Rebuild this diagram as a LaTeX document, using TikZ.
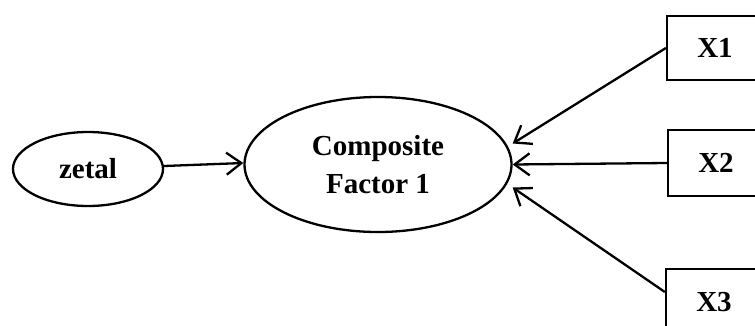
\documentclass[tikz,border=0pt]{standalone}
\usepackage{fontspec}
\setmainfont{Liberation Serif}
\usetikzlibrary{shapes.geometric,arrows.meta}
\begin{document}
\begin{tikzpicture}[x=1pt,y=-1pt,
  every node/.style={font=\fontsize{29}{38}\selectfont\bfseries, line width=2.3pt, inner sep=0pt},
  latent/.style={draw, ellipse},
  manifest/.style={draw, rectangle, minimum width=96pt},
  conn/.style={line width=2.3pt, -{Straight Barb[length=15pt,width=22pt,line width=2.3pt]}}]
\useasboundingbox (0,0) rectangle (755,325);
\node[latent, minimum width=150pt, minimum height=74pt] (zetal) at (88,169) {zetal};
\node[latent, minimum width=267pt, minimum height=135pt, align=center] (main) at (378,164.5) {Composite\\Factor 1};
\node[manifest, minimum height=64pt] (x1) at (715,48) {X1};
\node[manifest, minimum height=66pt] (x2) at (716,163) {X2};
\node[manifest, minimum height=66pt] (x3) at (714,302) {X3};
\draw[conn] ([yshift=3pt]zetal.east) -- ([yshift=1.5pt]main.west);
\draw[conn] (x1.west) -- ([yshift=21pt]main.east);
\draw[conn] (x2.west) -- (main.east);
\draw[conn] ([yshift=10pt]x3.west) -- ([yshift=-23pt]main.east);
\end{tikzpicture}
\end{document}
